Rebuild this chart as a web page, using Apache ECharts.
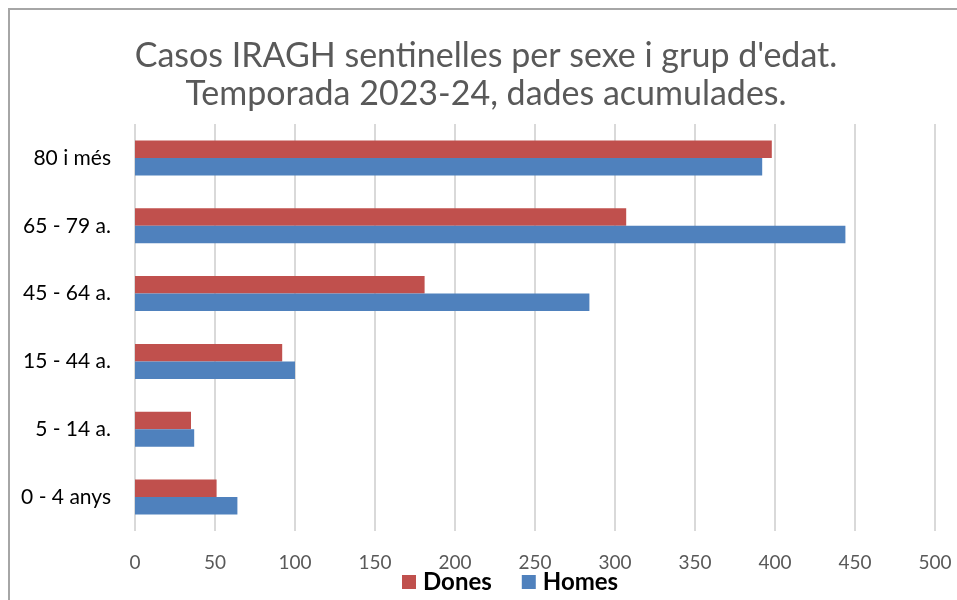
<!DOCTYPE html>
<html>
<head>
<meta charset="utf-8">
<script src="https://cdn.jsdelivr.net/npm/echarts@6/dist/echarts.min.js"></script>
<style>
  html, body { margin: 0; padding: 0; background: #fff; }
  #chart { width: 957px; height: 600px; }
</style>
</head>
<body>
<div id="chart"></div>
<script>
// Grups d'edat (de baix a dalt, com a l'eix)
const grups = ['0 - 4 anys', '5 - 14 a.', '15 - 44 a.', '45 - 64 a.', '65 - 79 a.', '80 i més'];
const dones = [51, 35, 92, 181, 307, 398];
const homes = [64, 37, 100, 284, 444, 392];
const ticksX = [0, 50, 100, 150, 200, 250, 300, 350, 400, 450, 500];

const font = 'Lato, "Open Sans", sans-serif';

const chart = echarts.init(document.getElementById('chart'));

chart.setOption({
  animation: false,
  backgroundColor: '#fff',
  title: {
    text: "Casos IRAGH sentinelles per sexe i grup d'edat.\nTemporada 2023-24, dades acumulades.",
    left: 486,
    top: 37,
    padding: 0,
    textAlign: 'center',
    textStyle: {
      fontFamily: font,
      fontSize: 34,
      fontWeight: 'normal',
      color: '#595959',
      lineHeight: 38
    }
  },
  legend: {
    data: ['Dones', 'Homes'],
    left: 397,
    top: 565,
    itemWidth: 14,
    itemHeight: 14,
    itemGap: 30,
    icon: 'rect',
    textStyle: { fontFamily: font, fontSize: 24, fontWeight: 'bold', color: '#000', padding: [0, 0, 0, 2] }
  },
  grid: { left: 135, right: 22, top: 124, bottom: 69 },
  xAxis: {
    type: 'value',
    min: 0,
    max: 500,
    interval: 50,
    axisLine: { show: false },
    axisTick: { show: false },
    splitLine: { lineStyle: { color: '#d9d9d9', width: 2 } },
    axisLabel: {
      margin: 22,
      fontFamily: font,
      fontSize: 19,
      color: '#595959',
      formatter: v => ticksX.includes(v) ? String(v) : ''
    }
  },
  yAxis: {
    type: 'category',
    data: grups,
    axisLine: { show: false },
    axisTick: { show: false },
    axisLabel: { margin: 24, fontFamily: font, fontSize: 21, color: '#000' }
  },
  series: [
    {
      name: 'Dones',
      type: 'bar',
      data: dones,
      barWidth: 17.5,
      barGap: '0%',
      itemStyle: { color: '#c0504d' }
    },
    {
      name: 'Homes',
      type: 'bar',
      data: homes,
      barWidth: 17.5,
      barGap: '0%',
      itemStyle: { color: '#4f81bd' }
    }
  ],
  graphic: [{
    type: 'rect',
    shape: { x: 9, y: 9, width: 960, height: 600 },
    style: { fill: 'none', stroke: '#a6a6a6', lineWidth: 2 },
    silent: true,
    z: -1
  }]
});
</script>
</body>
</html>
